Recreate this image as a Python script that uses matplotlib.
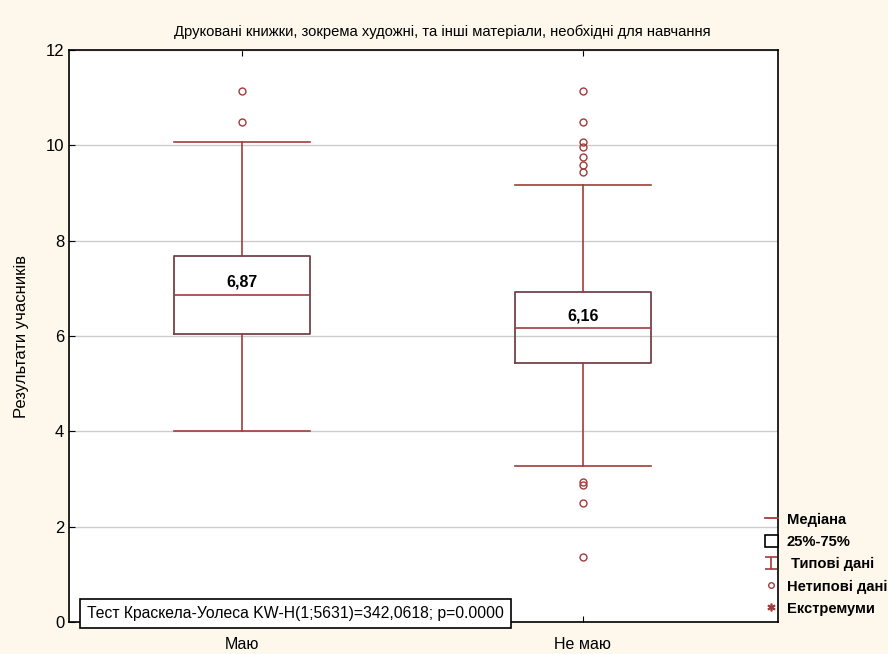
import matplotlib
matplotlib.use('Agg')
import matplotlib.pyplot as plt
from matplotlib.lines import Line2D
from matplotlib.patches import Patch
from matplotlib.path import Path

plt.rcParams['font.family'] = ['Liberation Sans', 'DejaVu Sans']

# data
groups = ['Маю', 'Не маю']
medians = [6.87, 6.16]
q1 = [6.05, 5.44]
q3 = [7.67, 6.93]
whis_lo = [4.0, 3.27]
whis_hi = [10.08, 9.17]
outliers = [
    [11.15, 10.50],
    [11.15, 10.50, 10.07, 9.97, 9.75, 9.59, 9.45, 2.94, 2.87, 2.49, 1.37],
]
title = 'Друковані книжки, зокрема художні, та інші матеріали, необхідні для навчання'
ylabel = 'Результати учасників'
test_text = 'Тест Краскела-Уолеса KW-H(1;5631)=342,0618; p=0.0000'
yticks = [0, 2, 4, 6, 8, 10, 12]

bg = '#fef8ec'
red = '#a23b3b'
boxcol = '#73434b'

fig = plt.figure(figsize=(8.88, 6.54), dpi=100, facecolor=bg)
ax = fig.add_axes([0.0777, 0.0489, 0.7983, 0.8746])
ax.set_facecolor('white')

stats = []
for i in range(len(groups)):
    stats.append(dict(med=medians[i], q1=q1[i], q3=q3[i],
                      whislo=whis_lo[i], whishi=whis_hi[i],
                      fliers=outliers[i], label=groups[i]))

pos = [1, 2]
ax.bxp(stats, positions=pos, widths=0.4, showfliers=True,
       boxprops=dict(color=boxcol, linewidth=1.3),
       medianprops=dict(color=red, linewidth=1.2),
       whiskerprops=dict(color=red, linewidth=1.2),
       capprops=dict(color=red, linewidth=1.2),
       capwidths=0.4,
       flierprops=dict(marker='o', markersize=5, markerfacecolor='none',
                       markeredgecolor=red, markeredgewidth=1.0, linestyle='none'))

for p, m in zip(pos, medians):
    ax.text(p, m + 0.27, f'{m:.2f}'.replace('.', ','), ha='center', va='center',
            fontsize=11.5, fontweight='bold', color='black')

ax.set_xlim(0.493, 2.572)
ax.set_ylim(0, 12)
ax.set_yticks(yticks)
ax.set_xticks(pos)
ax.set_xticklabels(groups, fontsize=11.5)
ax.tick_params(axis='y', labelsize=12, direction='in', length=4)
ax.tick_params(axis='x', direction='in', length=4, top=True, pad=11)
ax.yaxis.grid(True, color='#cccccc', linewidth=1)
ax.set_axisbelow(True)
for s in ax.spines.values():
    s.set_color('black')
    s.set_linewidth(1.2)

ax.set_ylabel(ylabel, fontsize=12, labelpad=12)
fig.text(0.498, 0.952, title, ha='center', va='center', fontsize=10.6)

fig.text(0.098, 0.0615, test_text, ha='left', va='center', fontsize=11.3,
         bbox=dict(boxstyle='square,pad=0.45', facecolor='white', edgecolor='black', linewidth=1.2))

ibeam = Path([(-1, 1), (1, 1), (0, 1), (0, -1), (-1, -1), (1, -1)],
             [Path.MOVETO, Path.LINETO, Path.MOVETO, Path.LINETO, Path.MOVETO, Path.LINETO])
handles = [
    Line2D([], [], color=red, linewidth=1.3),
    Patch(facecolor='white', edgecolor='black', linewidth=1.2),
    Line2D([], [], color=red, marker=ibeam, markersize=9, markeredgewidth=1.2,
           markerfacecolor='none', linestyle='none'),
    Line2D([], [], color=red, marker='o', markersize=4, markerfacecolor='none', linestyle='none'),
    Line2D([], [], color=red, marker='$*$', markersize=5, linestyle='none'),
]
labels = ['Медіана', '25%-75%', ' Типові дані', 'Нетипові дані', 'Екстремуми']
leg = fig.legend(handles, labels, loc='upper left', bbox_to_anchor=(0.861, 0.216),
                 frameon=False, handlelength=0.9, handletextpad=0.6, labelspacing=0.55,
                 borderpad=0, borderaxespad=0, handleheight=0.9,
                 prop=dict(size=10.6, weight='bold'))

fig.savefig('out.png', dpi=100, facecolor=bg)
